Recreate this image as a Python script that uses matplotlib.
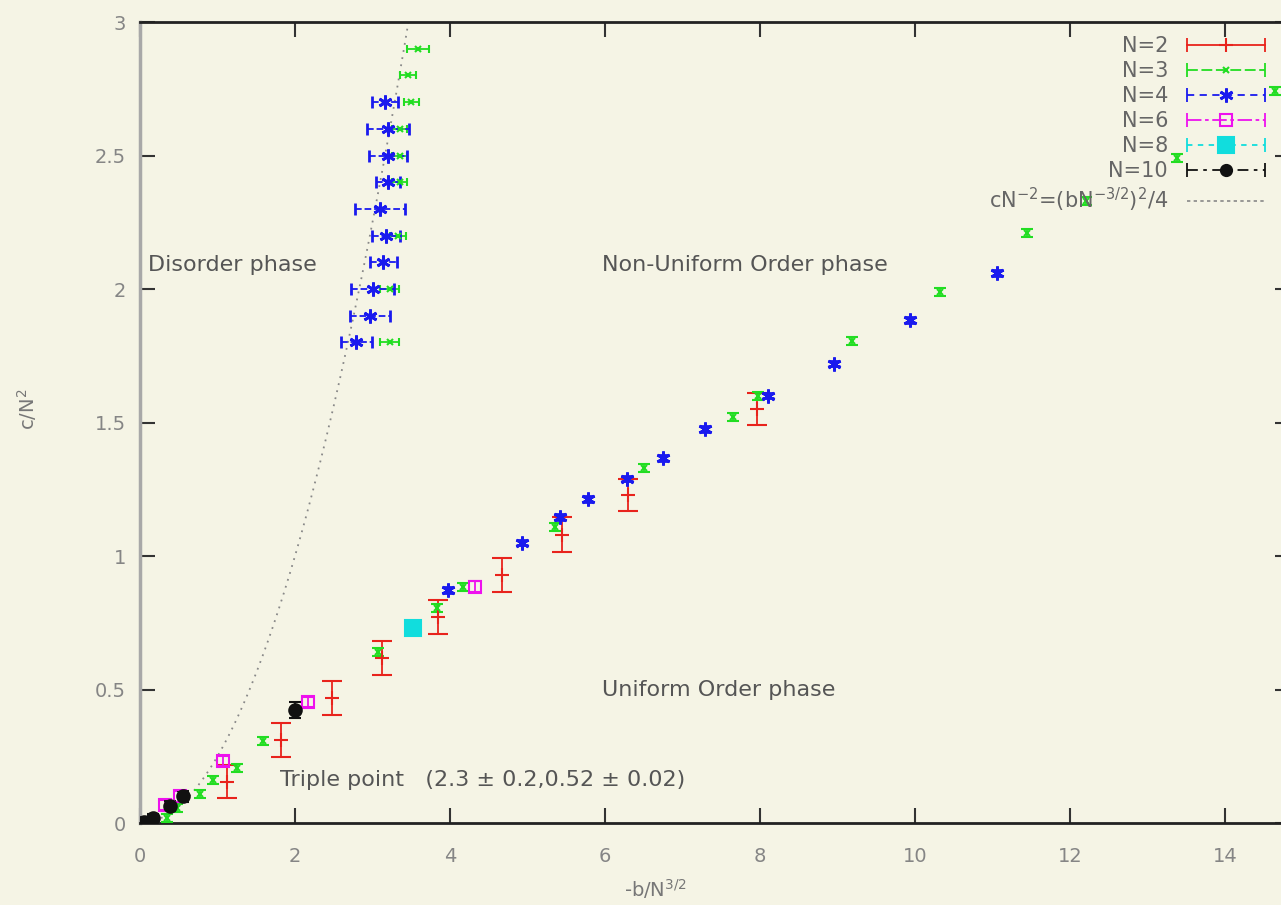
import matplotlib
matplotlib.use("Agg")
import matplotlib.pyplot as plt
import numpy as np
from matplotlib.lines import Line2D
from matplotlib.legend_handler import HandlerLine2D, HandlerTuple

# N=2 (vertical error bars)
n2_x = [1.12, 1.82, 2.48, 3.12, 3.85, 4.67, 5.45, 6.30, 7.96]
n2_y = [0.154, 0.31, 0.468, 0.618, 0.77, 0.93, 1.08, 1.23, 1.55]
n2_err = [0.062, 0.064, 0.064, 0.064, 0.064, 0.064, 0.065, 0.06, 0.06]

# N=3 along the order-order boundary
n3_x = [0.35, 0.48, 0.77, 0.94, 1.25, 1.59, 3.07, 3.83, 4.17, 5.35, 6.50,
        7.65, 7.98, 9.19, 10.32, 11.45, 12.20, 13.38, 14.65]
n3_y = [0.02, 0.056, 0.11, 0.16, 0.205, 0.307, 0.64, 0.805, 0.885, 1.11, 1.33,
        1.52, 1.60, 1.805, 1.99, 2.21, 2.33, 2.49, 2.74]
n3_err = [0.015] * len(n3_x)

# N=3 near the disorder boundary (horizontal error bars)
n3b_x = [3.22, 3.22, 3.33, 3.35, 3.35, 3.35, 3.50, 3.46, 3.59]
n3b_y = [1.8, 2.0, 2.2, 2.4, 2.5, 2.6, 2.7, 2.8, 2.9]
n3b_err = [0.12, 0.12, 0.10, 0.10, 0.10, 0.10, 0.10, 0.10, 0.14]

# N=4
n4_x = [3.97, 4.93, 5.42, 5.78, 6.28, 6.75, 7.29, 8.10, 8.95, 9.94, 11.06]
n4_y = [0.873, 1.05, 1.146, 1.214, 1.29, 1.367, 1.476, 1.60, 1.72, 1.884, 2.06]
n4_err = [0.01] * len(n4_x)

n4b_x = [2.79, 2.97, 3.00, 3.14, 3.17, 3.10, 3.20, 3.20, 3.20, 3.16]
n4b_y = [1.8, 1.9, 2.0, 2.1, 2.2, 2.3, 2.4, 2.5, 2.6, 2.7]
n4b_err = [0.2, 0.26, 0.28, 0.17, 0.18, 0.32, 0.16, 0.25, 0.27, 0.17]

# N=6, N=8, N=10
n6_x = [0.32, 0.52, 1.07, 2.17, 4.32]
n6_y = [0.067, 0.10, 0.232, 0.453, 0.885]
n6_err = [0.02] * len(n6_x)

n8_x = [3.52]
n8_y = [0.73]
n8_err = [0.02]

n10_x = [0.0, 0.05, 0.17, 0.39, 0.55, 2.0]
n10_y = [0.0, 0.005, 0.02, 0.064, 0.10, 0.423]
n10_err = [0.015, 0.015, 0.015, 0.02, 0.02, 0.03]

texts = [
    (0.10, 2.09, "Disorder phase"),
    (5.96, 2.09, "Non-Uniform Order phase"),
    (5.96, 0.50, "Uniform Order phase"),
    (1.80, 0.16, "Triple point   (2.3 \u00b1 0.2,0.52 \u00b1 0.02)"),
]

bg = "#f5f4e5"
plt.rcParams["font.family"] = ["DejaVu Sans"]
ASTER = (6, 2, 0)

fig = plt.figure(figsize=(12.81, 9.05), dpi=100, facecolor=bg)
ax = fig.add_axes([140 / 1281, 82 / 905, 1150 / 1281, 801 / 905], facecolor=bg)
ax.set_xlim(0, 1150 / 77.5)
ax.set_ylim(0, 3)

# boundary curve c/N^2 = (b/N^{3/2})^2 / 4
bx = np.linspace(0, 3.6, 200)
ax.plot(bx, bx ** 2 / 4, color="#888888", linestyle=(0, (1, 3)), linewidth=1.3, zorder=2)


def draw(x, y, color, marker, ms, ls, xerr=None, yerr=None, cap=3, mfc=None, mew=1.5):
    cont = ax.errorbar(x, y, xerr=xerr, yerr=yerr, fmt="", marker=marker,
                       linestyle="none", color=color,
                       ms=ms, mfc=mfc if mfc else color, mec=color, mew=mew,
                       ecolor=color, elinewidth=1.3, capsize=cap, capthick=1.3,
                       zorder=3)
    for lc in cont[2]:
        lc.set_linestyle(ls)
    return cont


draw(n2_x, n2_y, "#e8231c", "+", 10, "-", yerr=n2_err, cap=7)
draw(n3_x, n3_y, "#22dd22", "x", 5, "-", yerr=n3_err, cap=4)
draw(n3b_x, n3b_y, "#22dd22", "x", 5, "-", xerr=n3b_err, cap=3)
draw(n4_x, n4_y, "#1a1aee", ASTER, 10, "-", yerr=n4_err, cap=4, mew=2)
draw(n4b_x, n4b_y, "#1a1aee", ASTER, 10, "--", xerr=n4b_err, cap=4, mew=2)
draw(n6_x, n6_y, "#ee11ee", "s", 9, "-", yerr=n6_err, cap=5, mfc="none")
draw(n8_x, n8_y, "#11dddd", "s", 11, "-", yerr=n8_err, cap=5)
draw(n10_x, n10_y, "#111111", "o", 9, "-", yerr=n10_err, cap=4)

for tx, ty, s in texts:
    ax.text(tx, ty, s, fontsize=16, color="#555555", va="center", ha="left", zorder=4)

# ticks and frame in gnuplot style
ax.set_xticks(np.arange(0, 15, 2))
ax.set_yticks([0, 0.5, 1, 1.5, 2, 2.5, 3])
ax.set_yticklabels(["0", "0.5", "1", "1.5", "2", "2.5", "3"])
ax.tick_params(direction="in", length=11, width=1.5, color="#333333",
               top=True, right=True, labelsize=14, labelcolor="#858585", pad=10)
ax.tick_params(axis="x", pad=17)
ax.spines["left"].set_color("#a8a8a8")
ax.spines["left"].set_linewidth(2.5)
for side in ("top", "bottom", "right"):
    ax.spines[side].set_color("#222222")
    ax.spines[side].set_linewidth(2)

ax.set_xlabel("-b/N$^{3/2}$", fontsize=14, color="#777777")
ax.xaxis.set_label_coords(0.448, -0.068)
ax.set_ylabel("c/N$^2$", fontsize=14, color="#777777")
ax.yaxis.set_label_coords(-0.088, 0.516)

# legend: label on the left, sample on the right
specs = [
    ("N=2", "#e8231c", "-", "+", 10, None, 1.5),
    ("N=3", "#22dd22", (0, (6, 2)), "x", 5, None, 1.5),
    ("N=4", "#1a1aee", (0, (4, 3)), ASTER, 10, None, 2),
    ("N=6", "#ee11ee", (0, (8, 2, 2, 2)), "s", 9, "none", 1.5),
    ("N=8", "#11dddd", (0, (3, 3)), "s", 11, None, 1.5),
    ("N=10", "#111111", (0, (6, 3, 2, 3)), "o", 8, None, 1.5),
]
handles, labels, hmap = [], [], {}
for lab, col, ls, mk, ms, mfc, mew in specs:
    caps = Line2D([], [], color=col, linestyle=ls, linewidth=1.3,
                  marker="|", ms=10, mew=1.3)
    mark = Line2D([], [], color=col, linestyle="none", marker=mk, ms=ms,
                  mfc=mfc if mfc else col, mec=col, mew=mew)
    hmap[caps] = HandlerLine2D(numpoints=2, marker_pad=0.0)
    hmap[mark] = HandlerLine2D(numpoints=1)
    handles.append((caps, mark))
    labels.append(lab)
curve = Line2D([], [], color="#888888", linestyle=(0, (2, 2)), linewidth=1.2)
handles.append(curve)
labels.append("cN$^{-2}$=(bN$^{-3/2}$)$^{2}$/4")
hmap[tuple] = HandlerTuple(ndivide=1, pad=0)

leg = ax.legend(handles, labels, handler_map=hmap, loc="upper right",
                bbox_to_anchor=(1265 / 1281, 1 - 36 / 905),
                bbox_transform=fig.transFigure, frameon=False, markerfirst=False,
                fontsize=15, handlelength=3.75, handletextpad=0.9,
                labelspacing=0.24, borderpad=0, borderaxespad=0)
for t in leg.get_texts():
    t.set_color("#666666")

fig.savefig("out.png", dpi=100, facecolor=bg)
